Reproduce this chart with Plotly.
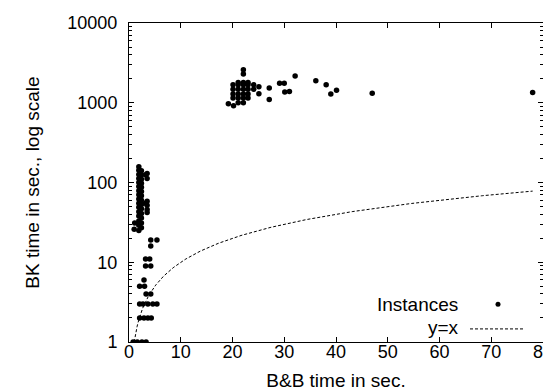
import plotly.graph_objects as go
import numpy as np

# ---- data ----
# left group: small B&B times
left_x = [0.8, 1.6, 2.5, 3.3,
          2.05, 2.9, 3.65, 4.3,
          2.05, 2.7, 3.65, 4.6, 5.4,
          3.3, 4.2,
          2.05, 3.0,
          2.9,
          3.2, 4.2,
          3.2, 4.0,
          4.2,
          4.2, 5.4]
left_y = [1, 1, 1, 1,
          2, 2, 2, 2,
          3, 3, 3, 3, 3,
          4, 4,
          5, 5,
          6,
          9, 9,
          11, 11,
          16,
          19, 19]

# dense vertical column around x ~ 2
col_x = [1.9] * 16 + [2.4] * 14 + [1.0, 1.1]
col_y = [25, 29, 33, 38, 43, 49, 55, 62, 70, 79, 89, 100, 112, 126, 142, 158,
         27, 31, 36, 41, 47, 53, 60, 68, 77, 87, 98, 110, 124, 140,
         26, 31]

# second column around x ~ 3.4
col2_x = [3.5, 3.5, 3.2, 3.5, 3.5, 3.2, 3.5, 3.5]
col2_y = [130, 112, 125, 58, 52, 55, 46, 42]

# upper group: large BK times
up_x = [20.1, 20.1, 20.1, 20.1,
        21.1, 21.1, 21.1, 21.1, 21.1, 21.1,
        22.1, 22.1, 22.1, 22.1, 22.1, 22.1, 22.1, 22.1,
        23.0, 23.0, 23.0, 23.0, 23.0,
        24.1, 24.1,
        25.1, 25.1,
        19.2, 20.2,
        27.1, 27.1,
        29.1, 30.0,
        30.1, 31.0,
        32.1, 36.1, 38.1, 39.0, 40.1, 47.0, 78.0]
up_y = [1680, 1480, 1290, 1150,
        1790, 1680, 1480, 1290, 1150, 1000,
        2600, 2300, 1790, 1680, 1480, 1290, 1150, 1000,
        1790, 1680, 1480, 1290, 1150,
        1680, 1480,
        1590, 1300,
        970, 920,
        1530, 1100,
        1750, 1750,
        1360, 1380,
        2170, 1890, 1680, 1290, 1430, 1320, 1340]

inst_x = left_x + col_x + col2_x + up_x
inst_y = left_y + col_y + col2_y + up_y

line_start, line_end = 1.0, 78.0
x_ticks = [0, 10, 20, 30, 40, 50, 60, 70, 80]
y_ticks = [1, 10, 100, 1000, 10000]

FONT = "Liberation Sans, Arial, sans-serif"
FS = 19      # titles / key
FS_TICK = 18 # tick labels

PLOT_W = 551 - 121 - 16
xs = np.linspace(line_start, line_end, 400)

fig = go.Figure()
fig.add_trace(go.Scatter(x=xs, y=xs, mode="lines",
                         line=dict(color="black", width=1, dash="3px,2px"),
                         showlegend=False, hoverinfo="skip"))
fig.add_trace(go.Scatter(x=inst_x, y=inst_y, mode="markers",
                         marker=dict(color="black", size=5.5, line=dict(width=0)),
                         showlegend=False))

axis_common = dict(showgrid=False, zeroline=False, showline=True, linecolor="black",
                   linewidth=1, mirror="allticks", ticks="inside", ticklen=5,
                   tickcolor="black", tickwidth=1, automargin=False,
                   tickfont=dict(family=FONT, size=FS_TICK, color="black"))

fig.update_xaxes(range=[0, 80], tickvals=x_ticks, ticktext=[str(v) for v in x_ticks],
                 title=dict(text="B&B time in sec.", font=dict(family=FONT, size=FS, color="black"),
                            standoff=13),
                 ticklabelstandoff=-7, **axis_common)
fig.update_yaxes(type="log", range=[0, 4], tickvals=y_ticks, ticktext=[str(v) for v in y_ticks],
                 title=dict(text="BK time in sec., log scale",
                            font=dict(family=FONT, size=FS, color="black"), standoff=22),
                 ticklabelstandoff=7,
                 minor=dict(ticks="inside", ticklen=3, tickcolor="black", tickwidth=1,
                            dtick="D1"),
                 **axis_common)

# gnuplot-style key: text on left, sample on right
key_text_x = (452 - 121) / PLOT_W
fig.add_annotation(xref="paper", yref="paper", x=key_text_x, y=0.118, xanchor="right",
                   yanchor="middle", text="Instances", showarrow=False,
                   font=dict(family=FONT, size=FS, color="black"))
fig.add_annotation(xref="paper", yref="paper", x=key_text_x + 0.002, y=0.047, xanchor="right",
                   yanchor="middle", text="y=x", showarrow=False,
                   font=dict(family=FONT, size=FS, color="black"))
dot_x = (490 - 121) / PLOT_W
fig.add_shape(type="circle", xref="paper", yref="paper",
              x0=dot_x - 2.5 / PLOT_W, x1=dot_x + 2.5 / PLOT_W,
              y0=0.118 - 2.5 / 319, y1=0.118 + 2.5 / 319,
              fillcolor="black", line=dict(width=0))
fig.add_shape(type="line", xref="paper", yref="paper",
              x0=(462 - 121) / PLOT_W, x1=(515 - 121) / PLOT_W,
              y0=0.041, y1=0.041, line=dict(color="black", width=1, dash="3px,2px"))

fig.update_layout(width=551, height=392, margin=dict(l=121, r=16, t=15, b=58),
                  plot_bgcolor="white", paper_bgcolor="white",
                  font=dict(family=FONT, size=FS, color="black"))

fig.write_html("out.html")
